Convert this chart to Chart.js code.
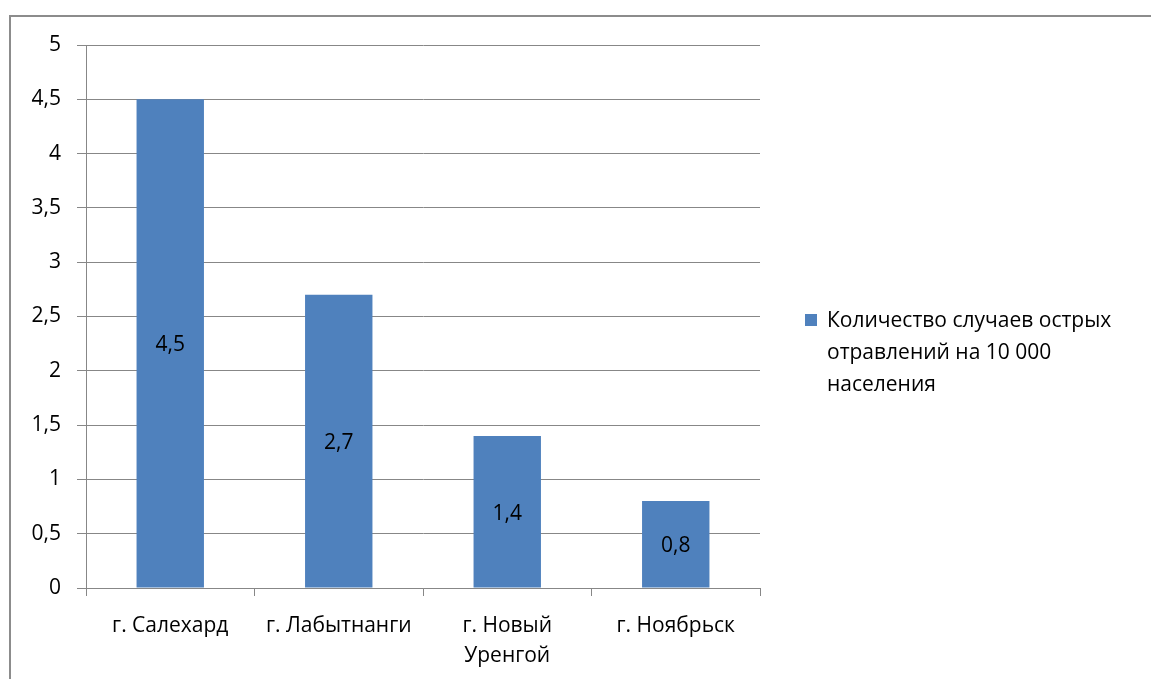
<!DOCTYPE html>
<html>
<head>
<meta charset="utf-8">
<script src="https://cdn.jsdelivr.net/npm/chart.js@4.4.0/dist/chart.umd.min.js"></script>
<style>
  html, body { margin: 0; padding: 0; background: #fff; }
  #wrap { position: relative; width: 1151px; height: 679px; overflow: hidden; }
  #frame { position: absolute; left: 9px; top: 15px; width: 1200px; height: 700px;
           border-left: 2px solid #8c8c8c; border-top: 2px solid #8c8c8c; }
  #legend { position: absolute; left: 805px; top: 303px; font-family: "Open Sans", sans-serif;
            font-size: 21px; line-height: 32px; color: #000; }
  #legend .box { position: absolute; left: 0; top: 11px; width: 12px; height: 12px; background: #4f81bd; }
  #legend .txt { margin-left: 22px; width: 340px; white-space: nowrap; }
</style>
</head>
<body>
<div id="wrap">
  <div id="frame"></div>
  <canvas id="chart" width="1151" height="679"></canvas>
  <div id="legend"><div class="box"></div><div class="txt">Количество случаев острых<br>отравлений на 10 000<br>населения</div></div>
</div>
<script>
// data
const cities = ["г. Салехард", "г. Лабытнанги", ["г. Новый", "Уренгой"], "г. Ноябрьск"];
const cases = [4.5, 2.7, 1.4, 0.8];
const seriesName = "Количество случаев острых отравлений на 10 000 населения";

const fontFamily = '"Open Sans", sans-serif';
const gridColor = "#878787";

const fmt = v => String(v).replace(".", ",");

// labels inside bars
const barLabels = {
  id: "barLabels",
  afterDatasetsDraw(chart) {
    const ctx = chart.ctx;
    const meta = chart.getDatasetMeta(0);
    ctx.save();
    ctx.font = "21px " + fontFamily;
    ctx.fillStyle = "#000";
    ctx.textAlign = "center";
    ctx.textBaseline = "middle";
    meta.data.forEach((bar, i) => {
      ctx.fillText(fmt(cases[i]), bar.x, (bar.y + bar.base) / 2 + 2);
    });
    ctx.restore();
  }
};

new Chart(document.getElementById("chart"), {
  type: "bar",
  data: {
    labels: cities,
    datasets: [{
      label: seriesName,
      data: cases,
      backgroundColor: "#4f81bd",
      barPercentage: 0.4,
      categoryPercentage: 1
    }]
  },
  options: {
    responsive: false,
    animation: false,
    layout: { padding: { top: 45, right: 391, left: 0, bottom: 0 } },
    plugins: { legend: { display: false }, tooltip: { enabled: false } },
    scales: {
      x: {
        grid: { drawOnChartArea: false, drawTicks: true, tickLength: 8, color: gridColor },
        border: { color: gridColor, width: 1 },
        ticks: { color: "#000", font: { family: fontFamily, size: 21, lineHeight: 1.43 }, padding: 15, maxRotation: 0 },
        afterFit(scale) { scale.height = 91; }
      },
      y: {
        min: 0,
        max: 5,
        ticks: { stepSize: 0.5, color: "#000", font: { family: fontFamily, size: 21 }, padding: 16,
                 callback: v => fmt(v) },
        grid: { color: gridColor, tickLength: 9 },
        border: { color: gridColor, width: 1 },
        afterFit(scale) { scale.width = 86; }
      }
    }
  },
  plugins: [barLabels]
});
</script>
</body>
</html>
